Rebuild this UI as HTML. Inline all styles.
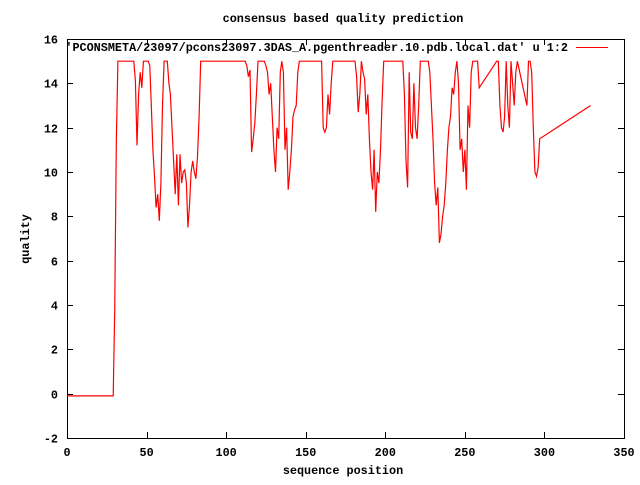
<!DOCTYPE html>
<html><head><meta charset="utf-8"><style>
body{margin:0;background:#fff}
svg text{font-family:"Liberation Mono",monospace;font-size:11.8px;font-weight:bold;fill:#000}
</style></head><body>
<svg id="chart" width="640" height="480" xmlns="http://www.w3.org/2000/svg">
<rect width="640" height="480" fill="#fff"/>
<text x="343" y="22" text-anchor="middle">consensus based quality prediction</text>
<text transform="translate(29,239) rotate(-90)" text-anchor="middle">quality</text>
<text x="343" y="474" text-anchor="middle">sequence position</text>
<g id="axes"></g>
<rect x="67.5" y="39.5" width="557" height="399" fill="none" stroke="#000" stroke-width="1"/>
<text x="568" y="51" text-anchor="end">'PCONSMETA/23097/pcons23097.3DAS_A.pgenthreader.10.pdb.local.dat' u 1:2</text>
<line x1="576" y1="47.5" x2="608" y2="47.5" stroke="#f00" stroke-width="1"/>
<g id="series"></g>
</svg>
<script>
const xTicks=[0,50,100,150,200,250,300,350];
const yTicks=[-2,0,2,4,6,8,10,12,14,16];
const posX=[0,29,30,31,32,42,43,44,45,46,47,48,51,52,53,54,55,56,57,58,59,60,61,63,64,65,66,67,68,69,70,71,72,73,74,75,76,77,78,79,80,81,82,83,84,112,113,114,115,116,117,118,119,120,124,125,126,127,128,129,130,131,132,133,134,135,136,137,138,139,140,141,142,143,144,145,146,160,161,162,163,164,165,166,167,181,182,183,184,185,186,187,188,189,190,191,192,193,194,195,196,197,198,199,211,212,213,214,215,216,217,218,219,220,221,222,227,228,229,230,231,232,233,234,235,236,237,238,239,240,241,242,243,244,245,246,247,248,249,250,251,252,253,254,255,258,259,270,271,272,273,274,275,276,277,278,279,280,281,282,283,289,290,291,292,293,294,295,296,297,329];
const quality=[-0.1,-0.1,3.7,11.3,15,15,14.1,11.2,13.5,14.5,13.8,15,15,14.8,13,11,9.8,8.4,9,7.8,9.5,13,15,15,14,13.5,12,10.5,9,10.8,8.5,10.8,9.5,10,10.1,9.5,7.5,8.5,10,10.5,10,9.7,10.7,12.5,15,15,14.8,14.3,14.6,10.9,11.5,12.2,13.5,15,15,14.8,14.5,13.5,14,12.5,11,10,12,11.5,14.5,15,14.5,11,12,9.2,10,11,12.5,12.8,13,14.5,15,15,12,11.8,12,13.5,12.6,14,15,15,14.3,12.7,13.5,15,14.5,14.2,12.6,13.5,11.5,10,9.2,11,8.2,10,9.5,11,13.2,15,15,13.5,10.5,9.3,14.5,11.8,11.5,14,12,11.5,13,15,15,14.5,13,11.5,9.5,8.5,9.3,6.8,7.2,8,8.5,9.5,11,12,12.5,13.8,13.5,14.5,15,14,11,11.5,10,11,9.2,13,12,14.5,15,15,13.8,15,15,13,12,11.8,12.5,15,13,12,15,14,13,14.5,15,13,15,15,14.5,12,10,9.8,10.2,11.5,13,15,15];
const X=v=>67+v*557/350, Y=v=>39+(16-v)*399/18;
const NS="http://www.w3.org/2000/svg";
const axes=document.getElementById('axes');
function mk(tag,attrs,parent){const e=document.createElementNS(NS,tag);for(const k in attrs)e.setAttribute(k,attrs[k]);parent.appendChild(e);return e;}
xTicks.forEach(t=>{
  const x=Math.round(X(t))+0.5;
  const a=mk('line',{x1:x,y1:438,x2:x,y2:432,stroke:'#000'},axes);
  
  
  const b=mk('line',{x1:x,y1:39,x2:x,y2:45,stroke:'#000'},axes);
  
  
  const l=mk('text',{x:X(t),y:456,'text-anchor':'middle'},axes);l.textContent=t;
  
  
});
yTicks.forEach(t=>{
  const y=Math.round(Y(t))+0.5;
  const a=mk('line',{x1:67,y1:y,x2:73,y2:y,stroke:'#000'},axes);
  
  
  const b=mk('line',{x1:624,y1:y,x2:618,y2:y,stroke:'#000'},axes);
  
  
  const l=mk('text',{x:58,y:y+4,'text-anchor':'end'},axes);l.textContent=t;
  
  
});
const pts=posX.map((p,i)=>X(p).toFixed(1)+','+Y(quality[i]).toFixed(1)).join(' ');
const line=mk('polyline',{points:pts,fill:'none',stroke:'#f00','stroke-width':1.2},document.getElementById('series'));


</script>
</body></html>
